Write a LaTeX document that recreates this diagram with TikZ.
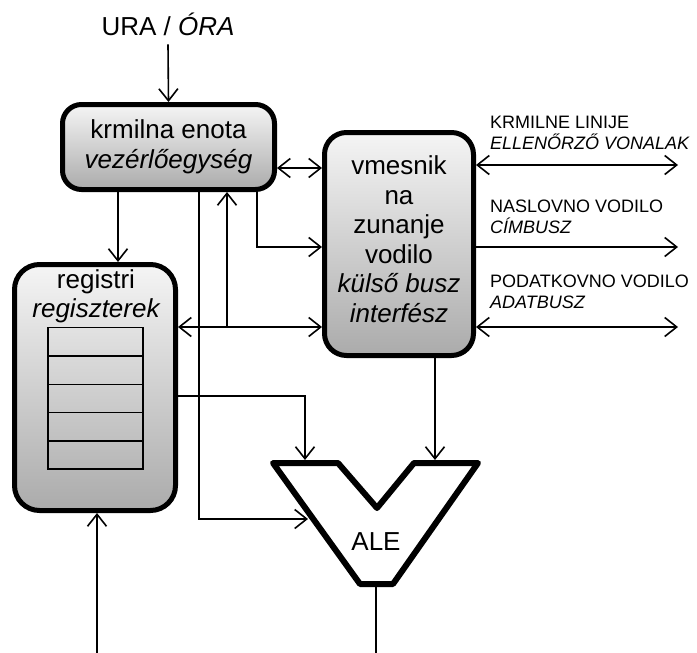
\documentclass[tikz,border=0pt]{standalone}
\usepackage{fontspec}
\setmainfont{Liberation Sans}
\usetikzlibrary{arrows.meta}
\begin{document}
\begin{tikzpicture}[x=1pt,y=-1pt,
  big/.style={font=\fontsize{26}{29.6}\selectfont},
  small/.style={font=\fontsize{18}{21}\selectfont, inner sep=0pt, anchor=north west, align=left},
  unit/.style={draw, line width=5pt, rounded corners=#1, top color=black!4, bottom color=black!33,
    inner sep=0pt, align=center, font=\fontsize{26}{29.6}\selectfont},
  cell/.style={draw, line width=1.5pt, minimum width=95pt, minimum height=28.3pt, inner sep=0pt},
  wire/.style={line width=1.6pt},
  barb/.tip={Straight Barb[length=12pt,width=19pt,line width=1.6pt]},
  arr/.style={wire, -barb},
  darr/.style={wire, barb-barb},
  alu/.style={line width=6pt, line join=round, fill=white},
]
\useasboundingbox (0,0) rectangle (697,653);

% helper coordinates
\coordinate (x97) at (97,0);
\coordinate (x118) at (118,0);
\coordinate (x199) at (199,0);
\coordinate (x227) at (227,0);
\coordinate (x257) at (257,0);
\coordinate (x435) at (435,0);
\coordinate (y165) at (0,165);
\coordinate (y168) at (0,168);
\coordinate (y247) at (0,247);
\coordinate (y327) at (0,327);
\coordinate (y396) at (0,396);
\coordinate (y519) at (0,519);
\coordinate (aluA) at (305,460);
\coordinate (aluB) at (435,460);
\coordinate (aluC) at (308,519);
\coordinate (aluO) at (376,587);
\coordinate (aluout) at (376,653);
\coordinate (regin) at (97,653);
\coordinate (e1) at (678,165);
\coordinate (e2) at (678,247);
\coordinate (e3) at (678,327);

% units
\node (ctrl) [unit=19pt, minimum width=212pt, minimum height=85pt] at (168.5,147)
  {krmilna enota\\{\itshape vezérlőegység}};
\node (iface) [unit=22pt, minimum width=149pt, minimum height=223pt] at (399,244)
  {vmesnik\\na\\zunanje\\vodilo\\{\itshape külső busz}\\{\itshape interfész\rule[-10pt]{0pt}{0pt}}};
\node (reg) [unit=25pt, minimum width=161pt, minimum height=246pt] at (95,387.5) {};
\node (regtext) [big, align=center, inner sep=0pt] at (96,296.4) {registri\\{\itshape regiszterek}};
\foreach \i in {1,...,5}
  \node (cell\i) [cell] at (95.3,{327.7+14.15+(\i-1)*28.3}) {};

% ALU
\draw[alu] (273,463) -- (338,463) -- (377,508) -- (414,463) -- (478,463) -- (393,584) -- (360,584) -- cycle;
\node (ale) [big, anchor=base, inner sep=0pt] at (376,550) {ALE};

% clock
\node (ura) [big, anchor=base, inner sep=0pt] at (168,35) {URA / \textit{ÓRA}};
\draw[arr] ([yshift=-9pt]ura.south) -- (ctrl.north);

% internal connections
\draw[arr] (ctrl.south -| x118) -- (reg.north -| x118);
\draw[arr] (ctrl.south -| x199) -- (x199 |- y519) -- (aluC);
\draw[arr] (x227 |- y327) -- (ctrl.south -| x227);
\draw[arr] (ctrl.south -| x257) |- (iface.west |- y247);
\draw[darr] (ctrl.east |- y168) -- (iface.west |- y168);
\draw[darr] (reg.east |- y327) -- (iface.west |- y327);
\draw[arr] (reg.east |- y396) -| (aluA);
\draw[arr] (iface.south -| x435) -- (aluB);
\draw[wire] (aluO) -- (aluout);
\draw[arr] (regin) -- (reg.south -| x97);

% external buses
\draw[darr] (iface.east |- y165) -- (e1);
\draw[arr] (iface.east |- y247) -- (e2);
\draw[darr] (iface.east |- y327) -- (e3);
\node (lab1) [small] at (490,116) {KRMILNE LINIJE\\{\itshape ELLENŐRZŐ VONALAK}};
\node (lab2) [small] at (490,200) {NASLOVNO VODILO\\{\itshape CÍMBUSZ}};
\node (lab3) [small] at (490,275) {PODATKOVNO VODILO\\{\itshape ADATBUSZ}};
\end{tikzpicture}
\end{document}
